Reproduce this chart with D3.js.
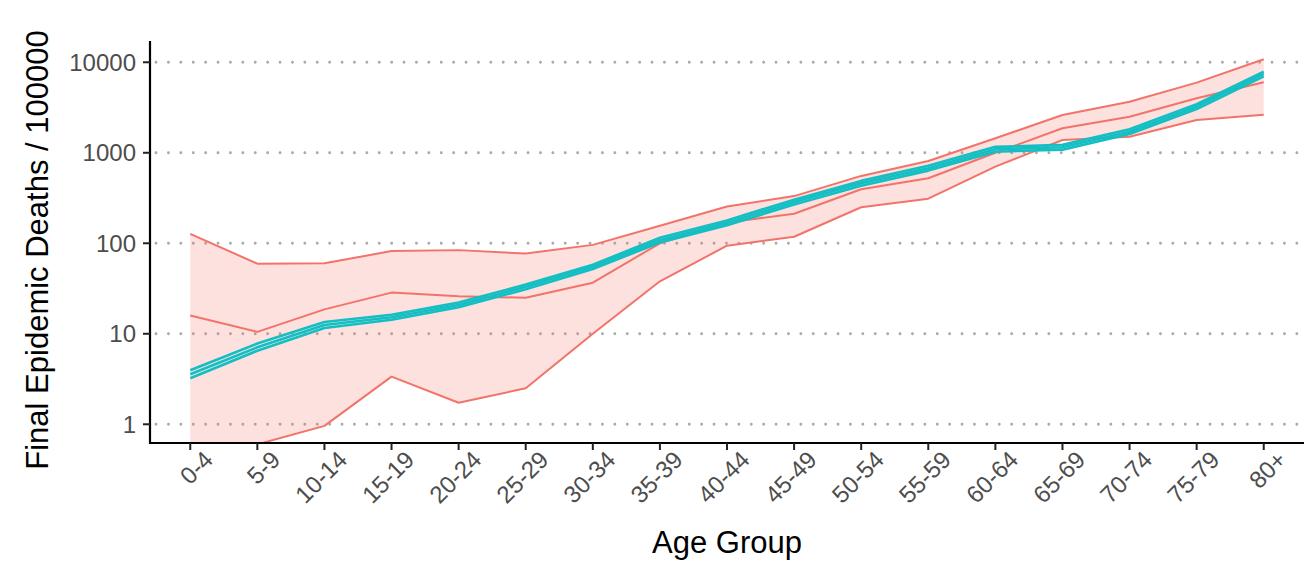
<!DOCTYPE html>
<html>
<head>
<meta charset="utf-8">
<script src="https://cdn.jsdelivr.net/npm/d3@7"></script>
<style>
  html, body { margin: 0; padding: 0; background: #fff; }
  svg { display: block; font-family: "Liberation Sans", Arial, Helvetica, sans-serif; }
</style>
</head>
<body>
<svg id="chart" width="1306" height="562"></svg>
<script>
// Age groups along the x axis
const ageGroups = ["0-4","5-9","10-14","15-19","20-24","25-29","30-34","35-39","40-44",
                   "45-49","50-54","55-59","60-64","65-69","70-74","75-79","80+"];

// Simulated range (ribbon bounds) and its central line, deaths per 100000
const simUpper  = [127, 59.5, 60, 82, 84, 77, 96, 156, 255, 332, 555, 812, 1446, 2617, 3670, 5957, 10800];
const simMedian = [15.9, 10.5, 18.6, 28.5, 26, 25, 36.7, 100, 170, 212, 395, 523, 1000, 1866, 2505, 4000, 6012];
const simLower  = [0.12, 0.6, 0.96, 3.36, 1.73, 2.5, 10, 38, 94, 118, 250, 311, 702, 1384, 1506, 2303, 2636];

// Fitted estimate with its narrow interval
const fitLow  = [3.22, 6.5, 11.6, 14.3, 19.6, 31, 52, 102, 158, 268, 433, 635, 1028, 1082, 1610, 3041, 6990];
const fitMid  = [3.57, 7.1, 12.5, 15.2, 20.8, 33, 55, 108, 168, 285, 460, 675, 1093, 1150, 1711, 3233, 7430];
const fitHigh = [3.95, 7.8, 13.5, 16.2, 22.1, 35, 58, 115, 179, 303, 489, 718, 1162, 1222, 1819, 3437, 7898];

// Y axis ticks
const yTicks = [1, 10, 100, 1000, 10000];
const yTickLabels = ["1", "10", "100", "1000", "10000"];

const svg = d3.select("#chart");
const panel = { left: 150, right: 1304, top: 41, bottom: 443 };

const x = d3.scalePoint()
  .domain(ageGroups)
  .range([panel.left, panel.right])
  .padding(0.6);

const y = d3.scaleLog()
  .domain([0.621, 17180])
  .range([panel.bottom, panel.top]);

// clip for the plotting panel
svg.append("defs").append("clipPath").attr("id", "panelClip")
  .append("rect")
  .attr("x", panel.left).attr("y", panel.top)
  .attr("width", panel.right - panel.left)
  .attr("height", panel.bottom - panel.top);

// dotted horizontal grid
svg.append("g")
  .selectAll("line")
  .data(yTicks)
  .join("line")
  .attr("x1", panel.left + 6).attr("x2", panel.right)
  .attr("y1", d => y(d)).attr("y2", d => y(d))
  .attr("stroke", "#aaaaaa")
  .attr("stroke-width", 2.8)
  .attr("stroke-linecap", "round")
  .attr("stroke-dasharray", "0.1 12.3");

const plot = svg.append("g").attr("clip-path", "url(#panelClip)");

const rows = ageGroups.map((g, i) => ({
  g, up: simUpper[i], med: simMedian[i], lo: simLower[i],
  fl: fitLow[i], fm: fitMid[i], fh: fitHigh[i]
}));

// ribbon
plot.append("path")
  .datum(rows)
  .attr("fill", "#F8766D")
  .attr("fill-opacity", 0.22)
  .attr("d", d3.area()
    .x(d => x(d.g))
    .y0(d => y(d.lo))
    .y1(d => y(d.up)));

const seriesLine = key => d3.line().x(d => x(d.g)).y(d => y(d[key]));
["up", "med", "lo"].forEach(k => {
  plot.append("path")
    .datum(rows)
    .attr("fill", "none")
    .attr("stroke", "#F2736A")
    .attr("stroke-width", 2)
    .attr("stroke-linejoin", "round")
    .attr("d", seriesLine(k));
});

// fitted lines
["fl", "fm", "fh"].forEach(k => {
  plot.append("path")
    .datum(rows)
    .attr("fill", "none")
    .attr("stroke", "#14BFC3")
    .attr("stroke-width", 2.6)
    .attr("stroke-linejoin", "round")
    .attr("d", seriesLine(k));
});

// axes
const axisG = svg.append("g");
axisG.append("line")
  .attr("x1", panel.left).attr("x2", panel.left)
  .attr("y1", panel.top).attr("y2", panel.bottom + 1)
  .attr("stroke", "#000").attr("stroke-width", 2.2);
axisG.append("line")
  .attr("x1", panel.left - 1).attr("x2", panel.right)
  .attr("y1", panel.bottom).attr("y2", panel.bottom)
  .attr("stroke", "#000").attr("stroke-width", 2.2);

// y ticks
axisG.selectAll(".ytick")
  .data(yTicks)
  .join("line")
  .attr("class", "ytick")
  .attr("x1", panel.left - 7).attr("x2", panel.left)
  .attr("y1", d => y(d)).attr("y2", d => y(d))
  .attr("stroke", "#222").attr("stroke-width", 2);

axisG.selectAll(".ylab")
  .data(yTicks)
  .join("text")
  .attr("class", "ylab")
  .attr("x", panel.left - 14)
  .attr("y", d => y(d))
  .attr("dy", "0.36em")
  .attr("text-anchor", "end")
  .attr("font-size", 24)
  .attr("fill", "#4d4d4d")
  .text((d, i) => yTickLabels[i]);

// x ticks
axisG.selectAll(".xtick")
  .data(ageGroups)
  .join("line")
  .attr("class", "xtick")
  .attr("x1", d => x(d)).attr("x2", d => x(d))
  .attr("y1", panel.bottom).attr("y2", panel.bottom + 7)
  .attr("stroke", "#222").attr("stroke-width", 2);

axisG.selectAll(".xlab")
  .data(ageGroups)
  .join("text")
  .attr("class", "xlab")
  .attr("transform", d => `translate(${x(d) + 12},${panel.bottom + 6}) rotate(-45)`)
  .attr("text-anchor", "end")
  .attr("dy", "0.72em")
  .attr("font-size", 24)
  .attr("fill", "#4d4d4d")
  .text(d => d);

// axis titles
svg.append("text")
  .attr("x", (panel.left + panel.right) / 2)
  .attr("y", 553)
  .attr("text-anchor", "middle")
  .attr("font-size", 31)
  .attr("fill", "#000")
  .text("Age Group");

svg.append("text")
  .attr("transform", `translate(48,250) rotate(-90)`)
  .attr("text-anchor", "middle")
  .attr("font-size", 31)
  .attr("fill", "#000")
  .text("Final Epidemic Deaths / 100000");
</script>
</body>
</html>
